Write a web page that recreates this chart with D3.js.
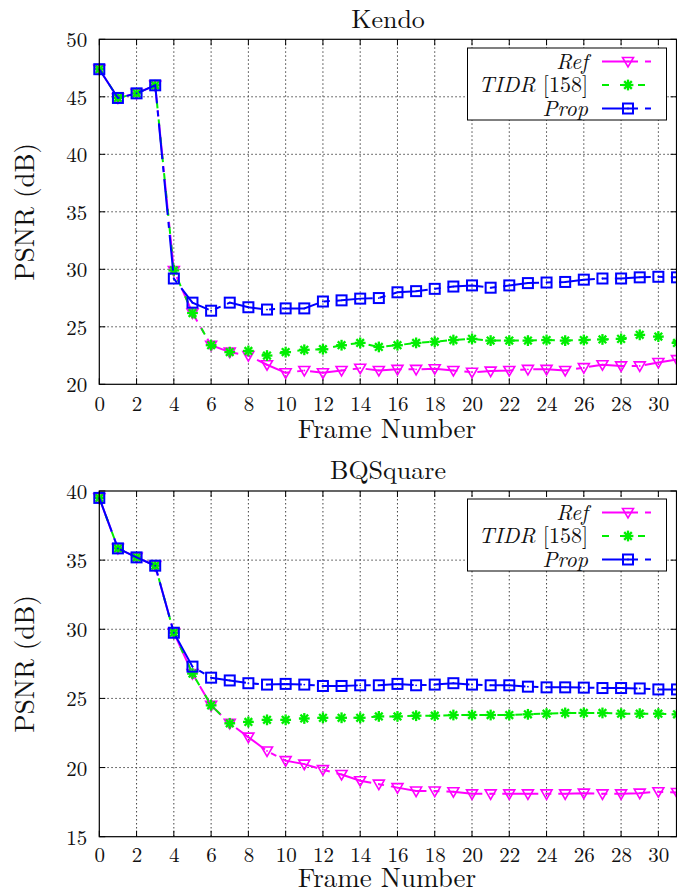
<!DOCTYPE html>
<html>
<head>
<meta charset="utf-8">
<script src="https://cdn.jsdelivr.net/npm/d3@7"></script>
<style>
  body { margin: 0; background: #fff; }
  svg { display: block; }
</style>
</head>
<body>
<svg width="677" height="893"></svg>
<script>
// Data.
const frames = [0, 1, 2, 3, 4, 5, 6, 7, 8, 9, 10, 11, 12, 13, 14, 15,
  16, 17, 18, 19, 20, 21, 22, 23, 24, 25, 26, 27, 28, 29, 30, 31];
const xTicks = [0, 2, 4, 6, 8, 10, 12, 14, 16, 18, 20, 22, 24, 26, 28, 30];

const kendoTicks = [20, 25, 30, 35, 40, 45, 50];
const kendoRef = [47.4, 44.9, 45.3, 46.0, 29.9, 26.2, 23.4, 22.8, 22.5, 21.7, 21.0, 21.2, 21.0, 21.2, 21.4, 21.2,
  21.3, 21.3, 21.35, 21.2, 21.05, 21.15, 21.2, 21.3, 21.3, 21.2, 21.45, 21.7, 21.6, 21.6, 21.9, 22.15];
const kendoTidr = [47.4, 44.9, 45.3, 46.0, 29.9, 26.2, 23.4, 22.8, 22.9, 22.5, 22.8, 23.0, 23.05, 23.4, 23.6, 23.25,
  23.4, 23.6, 23.7, 23.85, 23.95, 23.8, 23.8, 23.8, 23.85, 23.8, 23.85, 23.9, 23.95, 24.3, 24.15, 23.6];
const kendoProp = [47.4, 44.9, 45.3, 46.0, 29.2, 27.1, 26.4, 27.1, 26.7, 26.5, 26.6, 26.6, 27.2, 27.3, 27.45, 27.5,
  28.0, 28.1, 28.3, 28.5, 28.6, 28.4, 28.6, 28.8, 28.85, 28.9, 29.1, 29.2, 29.2, 29.3, 29.35, 29.3];

const bqTicks = [15, 20, 25, 30, 35, 40];
const bqRef = [39.5, 35.85, 35.2, 34.6, 29.75, 26.8, 24.5, 23.2, 22.2, 21.2, 20.5, 20.25, 19.85, 19.5, 19.05, 18.8,
  18.55, 18.3, 18.3, 18.25, 18.1, 18.1, 18.1, 18.1, 18.1, 18.1, 18.15, 18.1, 18.1, 18.15, 18.25, 18.2];
const bqTidr = [39.5, 35.85, 35.2, 34.6, 29.75, 26.8, 24.5, 23.2, 23.3, 23.45, 23.45, 23.55, 23.6, 23.6, 23.6, 23.7,
  23.7, 23.75, 23.75, 23.8, 23.8, 23.8, 23.8, 23.85, 23.9, 23.95, 23.95, 23.95, 23.9, 23.9, 23.9, 23.85];
const bqProp = [39.5, 35.85, 35.2, 34.6, 29.75, 27.3, 26.5, 26.3, 26.1, 26.0, 26.05, 26.0, 25.9, 25.9, 25.95, 25.95,
  26.05, 25.95, 26.0, 26.1, 26.0, 25.95, 25.95, 25.85, 25.8, 25.8, 25.78, 25.75, 25.75, 25.72, 25.65, 25.65];

const seriesNames = ['Ref', 'TIDR', 'Prop'];

// Styles per series.
const styles = {
  Ref: { colour: '#ff00ff', dash: '36,7,6,7', marker: 'tri' },
  TIDR: { colour: '#00ee00', dash: '7,11', marker: 'star' },
  Prop: { colour: '#0000ff', dash: '36,7,6,7', marker: 'square' }
};

const font = "'Latin Modern Roman', 'Liberation Serif', serif";
const svg = d3.select('svg');

function marker(g, type, colour) {
  if (type === 'tri') {
    g.append('path')
      .attr('d', 'M-5.5,-4L5.5,-4L0,5.5Z')
      .attr('fill', 'none')
      .attr('stroke', colour)
      .attr('stroke-width', 1.6);
    g.append('circle').attr('r', 0.9).attr('fill', colour);
  } else if (type === 'square') {
    g.append('rect')
      .attr('x', -5).attr('y', -5).attr('width', 10).attr('height', 10)
      .attr('fill', 'none')
      .attr('stroke', colour)
      .attr('stroke-width', 2);
    g.append('circle').attr('r', 0.9).attr('fill', colour);
  } else {
    [0, 45, 90, 135].forEach(a => {
      const r = 5.4, t = a * Math.PI / 180;
      g.append('line')
        .attr('x1', -r * Math.cos(t)).attr('y1', -r * Math.sin(t))
        .attr('x2', r * Math.cos(t)).attr('y2', r * Math.sin(t))
        .attr('stroke', colour)
        .attr('stroke-width', 2.3);
    });
  }
}

function panel(cfg) {
  const left = 99.3, right = 677;
  const x = d3.scaleLinear().domain([0, 31]).range([left, right]);
  const y = d3.scaleLinear().domain(cfg.yDomain).range(cfg.yRange);
  const top = cfg.yRange[1], bottom = cfg.yRange[0];
  const g = svg.append('g');

  // Grid.
  g.append('g')
    .selectAll('line')
    .data(xTicks.filter(d => d > 0))
    .join('line')
    .attr('x1', d => x(d)).attr('x2', d => x(d))
    .attr('y1', top).attr('y2', bottom)
    .attr('stroke', '#444').attr('stroke-width', 1)
    .attr('stroke-dasharray', '1.5,2.5');
  g.append('g')
    .selectAll('line')
    .data(cfg.yTicks.slice(1, -1))
    .join('line')
    .attr('x1', left).attr('x2', right)
    .attr('y1', d => y(d)).attr('y2', d => y(d))
    .attr('stroke', '#444').attr('stroke-width', 1)
    .attr('stroke-dasharray', '1.5,2.5');

  // Inward tick marks.
  const tk = g.append('g').attr('stroke', '#000').attr('stroke-width', 1);
  xTicks.forEach(d => {
    tk.append('line').attr('x1', x(d)).attr('x2', x(d)).attr('y1', bottom).attr('y2', bottom - 6);
    tk.append('line').attr('x1', x(d)).attr('x2', x(d)).attr('y1', top).attr('y2', top + 6);
  });
  cfg.yTicks.forEach(d => {
    tk.append('line').attr('x1', left).attr('x2', left + 6).attr('y1', y(d)).attr('y2', y(d));
    tk.append('line').attr('x1', right - 0.5).attr('x2', right - 6.5).attr('y1', y(d)).attr('y2', y(d));
  });

  // Axes labels.
  const xAxis = g.append('g')
    .attr('transform', `translate(0,${bottom})`)
    .call(d3.axisBottom(x).tickValues(xTicks).tickSize(0).tickPadding(cfg.xPad));
  const yAxis = g.append('g')
    .attr('transform', `translate(${left},0)`)
    .call(d3.axisLeft(y).tickValues(cfg.yTicks).tickSize(0).tickPadding(12));
  [xAxis, yAxis].forEach(a => {
    a.select('.domain').remove();
    a.selectAll('text')
      .style('font-family', font)
      .attr('font-size', 21).attr('fill', '#111');
  });
  yAxis.selectAll('text').attr('dy', '0.36em');

  // Series.
  const line = d3.line().x((d, i) => x(frames[i])).y(d => y(d));
  cfg.series.forEach((vals, k) => {
    const st = styles[seriesNames[k]];
    g.append('path')
      .datum(vals)
      .attr('d', line)
      .attr('fill', 'none')
      .attr('stroke', st.colour)
      .attr('stroke-width', 2)
      .attr('stroke-dasharray', st.dash);
    vals.forEach((v, i) => {
      const m = g.append('g').attr('transform', `translate(${x(frames[i])},${y(v)})`);
      marker(m, st.marker, st.colour);
    });
  });

  // Frame.
  g.append('rect')
    .attr('x', left).attr('y', top)
    .attr('width', right - left - 0.5).attr('height', bottom - top)
    .attr('fill', 'none').attr('stroke', '#000').attr('stroke-width', 1.2);

  // Title and axis titles.
  g.append('text')
    .attr('x', 388).attr('y', cfg.titleY)
    .attr('text-anchor', 'middle')
    .style('font-family', font)
    .attr('font-size', 26).attr('fill', '#111')
    .text(cfg.title);
  g.append('text')
    .attr('x', 387).attr('y', cfg.xLabelY)
    .attr('text-anchor', 'middle')
    .style('font-family', font)
    .attr('font-size', 27).attr('fill', '#111')
    .text('Frame Number');
  g.append('text')
    .attr('transform', `translate(34,${(top + bottom) / 2}) rotate(-90)`)
    .attr('text-anchor', 'middle')
    .style('font-family', font)
    .attr('font-size', 27).attr('fill', '#111')
    .text('PSNR (dB)');

  // Legend.
  const lt = cfg.legendTop;
  const lg = g.append('g');
  lg.append('rect')
    .attr('x', 467.5).attr('y', lt)
    .attr('width', 199).attr('height', 72)
    .attr('fill', '#fff').attr('stroke', '#000').attr('stroke-width', 1);
  seriesNames.forEach((name, k) => {
    const st = styles[name];
    const cy = lt + 13.5 + k * 23.5;
    const t = lg.append('text')
      .attr('x', 588).attr('y', cy + 7)
      .attr('text-anchor', 'end')
      .style('font-family', font)
      .attr('font-size', 22).attr('fill', '#111');
    t.append('tspan').attr('font-style', 'italic').text(name);
    if (name === 'TIDR') t.append('tspan').text(' [158]');
    lg.append('line')
      .attr('x1', 602).attr('x2', 655)
      .attr('y1', cy).attr('y2', cy)
      .attr('stroke', st.colour).attr('stroke-width', 2)
      .attr('stroke-dasharray', st.dash);
    marker(lg.append('g').attr('transform', `translate(628,${cy})`), st.marker, st.colour);
  });
}

panel({
  title: 'Kendo', titleY: 28,
  yDomain: [20, 50], yRange: [384.3, 39.3], yTicks: kendoTicks,
  xPad: 12, xLabelY: 438, legendTop: 48,
  series: [kendoRef, kendoTidr, kendoProp]
});
panel({
  title: 'BQSquare', titleY: 479,
  yDomain: [15, 40], yRange: [836.7, 491], yTicks: bqTicks,
  xPad: 10, xLabelY: 887, legendTop: 499,
  series: [bqRef, bqTidr, bqProp]
});
</script>
</body>
</html>
